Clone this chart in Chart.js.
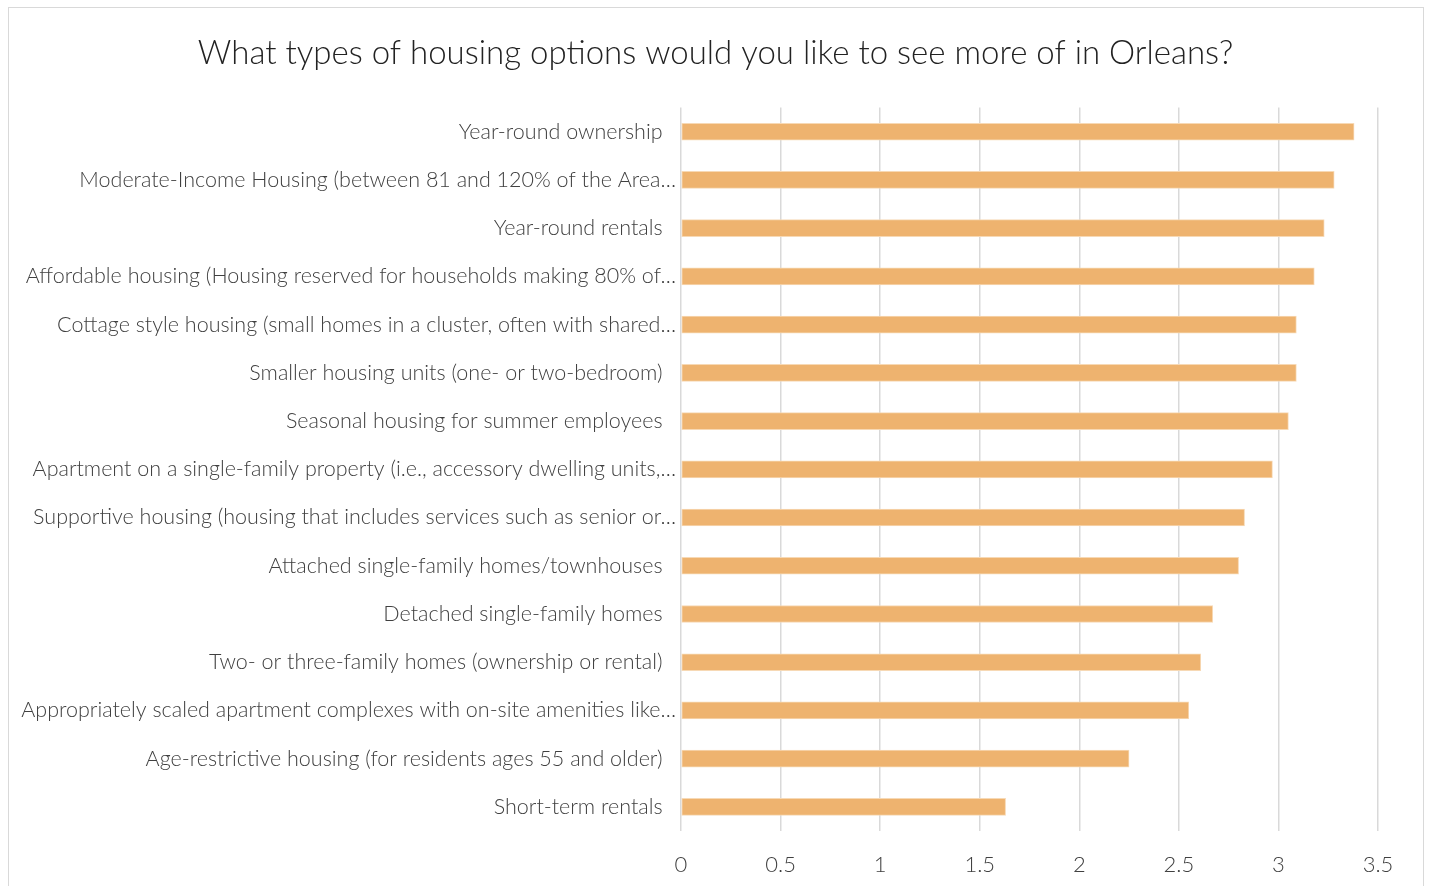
<!DOCTYPE html>
<html>
<head>
<meta charset="utf-8">
<script src="https://cdn.jsdelivr.net/npm/chart.js@4/dist/chart.umd.min.js"></script>
<style>
  html, body { margin: 0; padding: 0; background: #ffffff; }
  body { width: 1431px; height: 886px; position: relative; overflow: hidden; }
  #frame { position: absolute; left: 8px; top: 7px; width: 1416px; height: 900px; border: 1px solid #d9d9d9; box-sizing: border-box; }
  #wrap { position: absolute; left: 0; top: 0; width: 1431px; height: 886px; }
</style>
</head>
<body>
<div id="frame"></div>
<div id="wrap"><canvas id="chart"></canvas></div>
<script>
const titleText = 'What types of housing options would you like to see more of in Orleans?';

const categories = [
  'Year-round ownership',
  'Moderate-Income Housing (between 81 and 120% of the Area…',
  'Year-round rentals',
  'Affordable housing (Housing reserved for households making 80% of…',
  'Cottage style housing (small homes in a cluster, often with shared…',
  'Smaller housing units (one- or two-bedroom)',
  'Seasonal housing for summer employees',
  'Apartment on a single-family property (i.e., accessory dwelling units,…',
  'Supportive housing (housing that includes services such as senior or…',
  'Attached single-family homes/townhouses',
  'Detached single-family homes',
  'Two- or three-family homes (ownership or rental)',
  'Appropriately scaled apartment complexes with on-site amenities like…',
  'Age-restrictive housing (for residents ages 55 and older)',
  'Short-term rentals'
];

const averageRating = [3.38, 3.28, 3.23, 3.18, 3.09, 3.09, 3.05, 2.97, 2.83, 2.80, 2.67, 2.61, 2.55, 2.25, 1.63];

const xTickValues = [0, 0.5, 1, 1.5, 2, 2.5, 3, 3.5];

const FONT = 'Lato, "Open Sans", sans-serif';

// Full-length labels keep a little trailing room; shortened ones (ending in …) run up to the axis.
const padLabel = (text) => text.endsWith('…') ? text : text + '\u2002\u2009';

new Chart(document.getElementById('chart'), {
  type: 'bar',
  data: {
    labels: categories,
    datasets: [{
      data: averageRating,
      backgroundColor: '#EEB36F',
      borderColor: '#F7D9B5',
      borderWidth: 1,
      borderSkipped: false,
      barThickness: 17
    }]
  },
  options: {
    indexAxis: 'y',
    responsive: true,
    maintainAspectRatio: false,
    animation: false,
    layout: { padding: { top: 0, right: 0, bottom: 9, left: 0 } },
    plugins: {
      legend: { display: false },
      tooltip: { enabled: false },
      title: {
        display: true,
        text: titleText,
        color: '#222222',
        font: { family: FONT, size: 33, weight: '300' },
        padding: { top: 34, bottom: 34 }
      }
    },
    scales: {
      x: {
        min: 0,
        max: 3.5,
        afterBuildTicks: (scale) => { scale.ticks = xTickValues.map(v => ({ value: v })); },
        afterFit: (scale) => { scale.height = 46; scale.paddingRight = 53; },
        border: { display: false },
        grid: { color: '#D9D9D9', lineWidth: 1.5, drawTicks: false },
        ticks: {
          color: '#404040',
          padding: 21,
          font: { family: FONT, size: 22, weight: '300' },
          maxRotation: 0,
          callback: (v) => String(v)
        }
      },
      y: {
        border: { display: false },
        grid: { display: false, drawTicks: false },
        afterFit: (scale) => { scale.width = 681; },
        ticks: {
          color: '#404040',
          padding: 5,
          autoSkip: false,
          font: { family: FONT, size: 21.5, weight: '300' },
          callback: function (v) { return padLabel(this.getLabelForValue(v)); }
        }
      }
    }
  }
});
</script>
</body>
</html>
